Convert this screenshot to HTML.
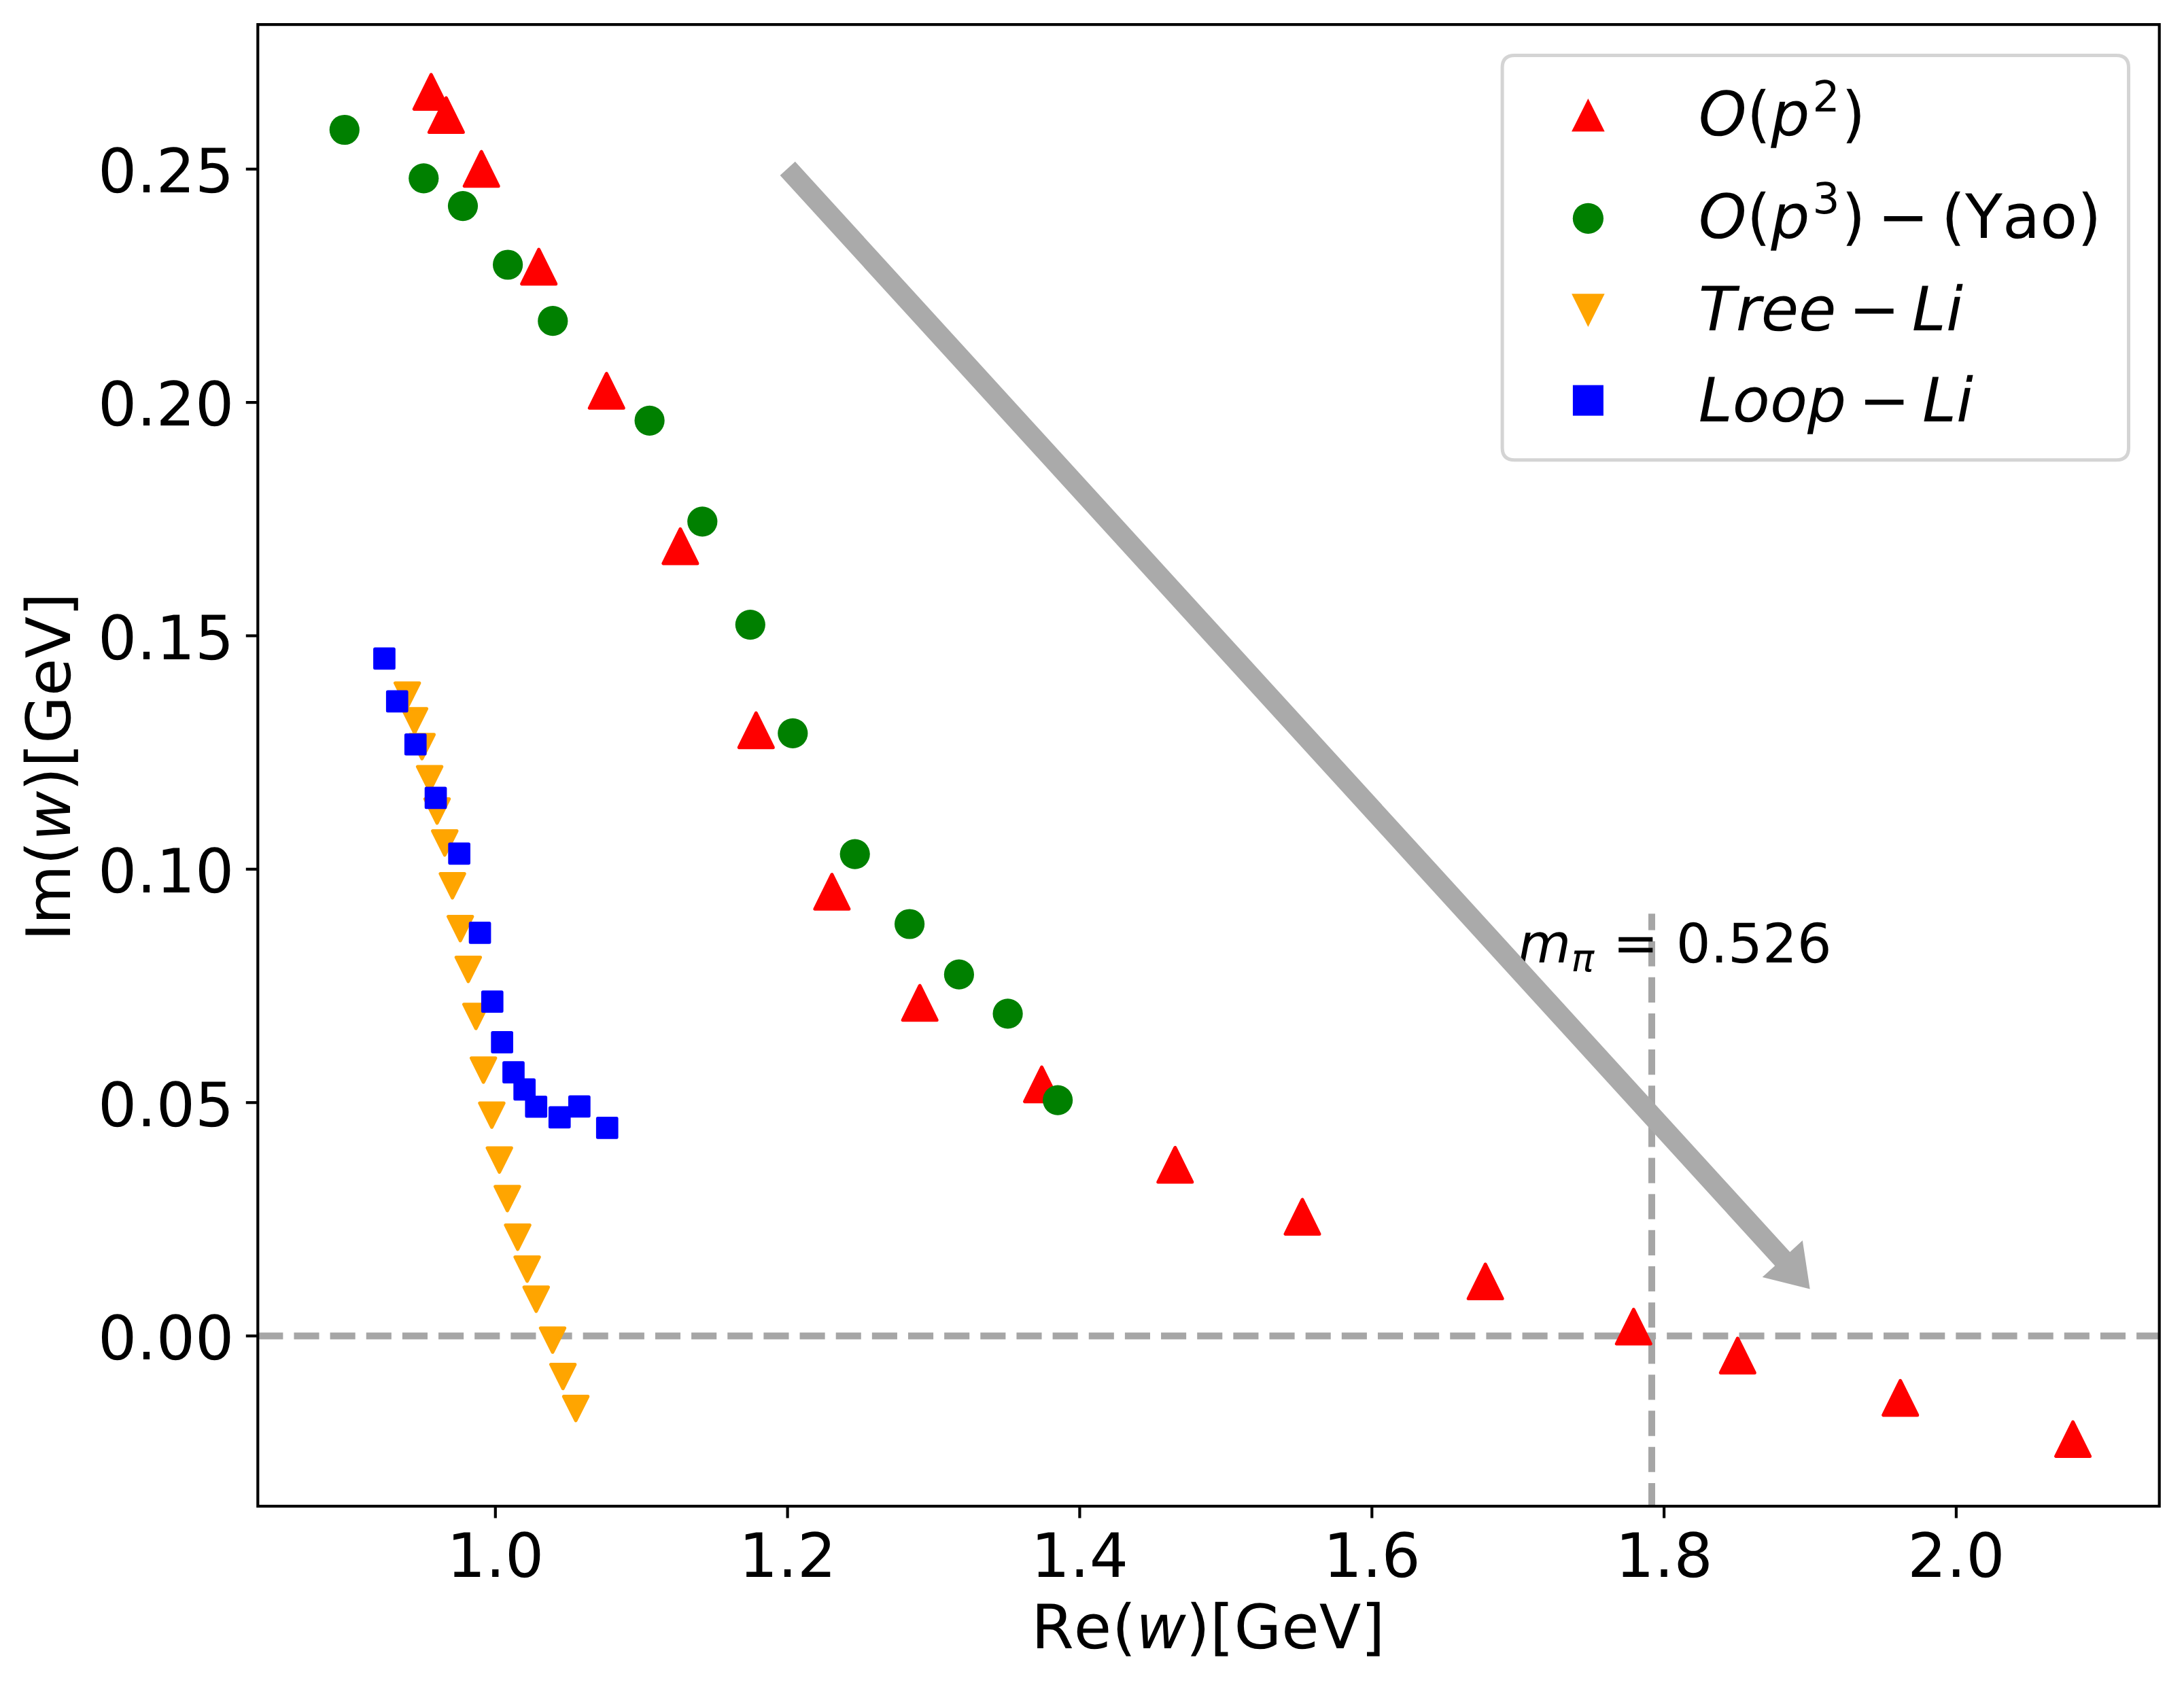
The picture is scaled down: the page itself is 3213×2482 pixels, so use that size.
<!DOCTYPE html>
<html lang="en"><head><meta charset="utf-8"><title>Pole trajectory</title>
<style>html,body{margin:0;padding:0;background:#fff}svg{display:block}text{font-family:"DejaVu Sans","Liberation Sans",sans-serif;fill:#000;font-kerning:none;font-variant-ligatures:none;text-rendering:geometricPrecision}.i{font-style:italic}.t{font-size:90px}.a{font-size:80px}.s{font-size:63px}.s2{font-size:56px}</style></head><body>
<svg width="3213" height="2482" viewBox="0 0 3213 2482">
<rect width="3213" height="2482" fill="#fff"/>
<defs><clipPath id="ax"><rect x="379.3" y="36.1" width="2797.3999999999996" height="2179.9"/></clipPath></defs>
<g clip-path="url(#ax)">
<line x1="379.3" y1="1965.4" x2="3176.7" y2="1965.4" stroke="#a6a6a6" stroke-width="10" stroke-dasharray="37.1 16.05"/>
<line x1="2430.0" y1="2219.0" x2="2430.0" y2="1344.2" stroke="#a6a6a6" stroke-width="10" stroke-dasharray="37.1 16.05"/>
<g fill="#ff0000" stroke="#ff0000" stroke-width="5" stroke-linejoin="round">
<path d="M634.3 109.8L609.3 160.4H659.3Z"/>
<path d="M656.4 144.0L631.4 194.6H681.4Z"/>
<path d="M708.2 223.2L683.2 273.8H733.2Z"/>
<path d="M792.7 367.1L767.7 417.7H817.7Z"/>
<path d="M892.3 549.7L867.3 600.3H917.3Z"/>
<path d="M1000.9 778.3L975.9 828.9H1025.9Z"/>
<path d="M1112.3 1049.1L1087.3 1099.7H1137.3Z"/>
<path d="M1223.9 1286.7L1198.9 1337.3H1248.9Z"/>
<path d="M1353.2 1450.2L1328.2 1500.8H1378.2Z"/>
<path d="M1532.6 1570.1L1507.6 1620.7H1557.6Z"/>
<path d="M1728.8 1688.4L1703.8 1739.0H1753.8Z"/>
<path d="M1916.0 1764.9L1891.0 1815.5H1941.0Z"/>
<path d="M2185.2 1860.0L2160.2 1910.6H2210.2Z"/>
<path d="M2403.3 1926.5L2378.3 1977.1H2428.3Z"/>
<path d="M2556.3 1969.1L2531.3 2019.7H2581.3Z"/>
<path d="M2795.7 2031.3L2770.7 2081.9H2820.7Z"/>
<path d="M3049.6 2092.0L3024.6 2142.6H3074.6Z"/>
</g>
<g fill="#008000">
<circle cx="506.8" cy="191.0" r="22.1"/>
<circle cx="623.3" cy="262.3" r="22.1"/>
<circle cx="681.0" cy="303.1" r="22.1"/>
<circle cx="747.1" cy="389.5" r="22.1"/>
<circle cx="813.3" cy="472.2" r="22.1"/>
<circle cx="955.6" cy="618.8" r="22.1"/>
<circle cx="1033.3" cy="767.3" r="22.1"/>
<circle cx="1103.8" cy="919.1" r="22.1"/>
<circle cx="1166.3" cy="1078.9" r="22.1"/>
<circle cx="1257.7" cy="1256.6" r="22.1"/>
<circle cx="1338.1" cy="1359.5" r="22.1"/>
<circle cx="1410.9" cy="1433.7" r="22.1"/>
<circle cx="1482.6" cy="1491.4" r="22.1"/>
<circle cx="1556.1" cy="1618.6" r="22.1"/>
</g>
<g fill="#ffa500" stroke="#ffa500" stroke-width="5" stroke-linejoin="round">
<path d="M581.5 1004.9H616.9L599.2 1040.3Z"/>
<path d="M592.2 1042.7H627.6L609.9 1078.1Z"/>
<path d="M603.1 1080.8H638.5L620.8 1116.2Z"/>
<path d="M614.4 1127.9H649.8L632.1 1163.3Z"/>
<path d="M625.3 1175.5H660.7L643.0 1210.9Z"/>
<path d="M636.6 1222.6H672.0L654.3 1258.0Z"/>
<path d="M647.9 1285.5H683.3L665.6 1320.9Z"/>
<path d="M659.5 1348.5H694.9L677.2 1383.9Z"/>
<path d="M671.2 1408.5H706.6L688.9 1443.9Z"/>
<path d="M682.5 1477.7H717.9L700.2 1513.1Z"/>
<path d="M693.5 1556.7H728.9L711.2 1592.1Z"/>
<path d="M705.8 1622.9H741.2L723.5 1658.3Z"/>
<path d="M717.0 1689.0H752.4L734.7 1724.4Z"/>
<path d="M728.7 1745.7H764.1L746.4 1781.1Z"/>
<path d="M743.9 1802.5H779.3L761.6 1837.9Z"/>
<path d="M757.9 1849.4H793.3L775.6 1884.8Z"/>
<path d="M771.1 1893.8H806.5L788.8 1929.2Z"/>
<path d="M795.3 1953.9H830.7L813.0 1989.3Z"/>
<path d="M810.5 2007.4H845.9L828.2 2042.8Z"/>
<path d="M829.4 2054.6H864.8L847.1 2090.0Z"/>
</g>
<g fill="#0000ff" stroke="#0000ff" stroke-width="5" stroke-linejoin="round">
<rect x="551.6" y="955.1" width="27.7" height="27.7"/>
<rect x="570.4" y="1018.1" width="27.7" height="27.7"/>
<rect x="597.4" y="1081.4" width="27.7" height="27.7"/>
<rect x="627.2" y="1160.1" width="27.7" height="27.7"/>
<rect x="661.8" y="1242.1" width="27.7" height="27.7"/>
<rect x="692.2" y="1358.6" width="27.7" height="27.7"/>
<rect x="710.4" y="1459.8" width="27.7" height="27.7"/>
<rect x="724.8" y="1519.5" width="27.7" height="27.7"/>
<rect x="741.6" y="1563.8" width="27.7" height="27.7"/>
<rect x="757.8" y="1589.0" width="27.7" height="27.7"/>
<rect x="774.9" y="1614.4" width="27.7" height="27.7"/>
<rect x="809.4" y="1630.0" width="27.7" height="27.7"/>
<rect x="838.5" y="1614.0" width="27.7" height="27.7"/>
<rect x="879.4" y="1645.6" width="27.7" height="27.7"/>
</g>
<g class="a">
<text class="i" x="2233.3" y="1416.4">m</text>
<text class="i s2" x="2311.6" y="1428.8">π</text>
<text x="2372.7" y="1415.3">=</text>
<text x="2465.7" y="1415.6">0.526</text>
</g>
<polygon fill="#aaaaaa" points="1147.6,258.0 2611.2,1862.2 2592.7,1879.0 2662.7,1896.4 2651.8,1825.1 2633.3,1842.0 1169.8,237.8"/>
</g>
<rect x="379.3" y="36.1" width="2797.4" height="2179.9" fill="none" stroke="#000" stroke-width="4.2" stroke-linejoin="miter"/>
<g stroke="#000" stroke-width="4.2">
<line x1="728.8" y1="2216.0" x2="728.8" y2="2233.5"/>
<line x1="1158.6" y1="2216.0" x2="1158.6" y2="2233.5"/>
<line x1="1588.4" y1="2216.0" x2="1588.4" y2="2233.5"/>
<line x1="2018.3" y1="2216.0" x2="2018.3" y2="2233.5"/>
<line x1="2448.1" y1="2216.0" x2="2448.1" y2="2233.5"/>
<line x1="2877.9" y1="2216.0" x2="2877.9" y2="2233.5"/>
<line x1="379.3" y1="1965.5" x2="361.8" y2="1965.5"/>
<line x1="379.3" y1="1622.2" x2="361.8" y2="1622.2"/>
<line x1="379.3" y1="1278.8" x2="361.8" y2="1278.8"/>
<line x1="379.3" y1="935.4" x2="361.8" y2="935.4"/>
<line x1="379.3" y1="592.1" x2="361.8" y2="592.1"/>
<line x1="379.3" y1="248.8" x2="361.8" y2="248.8"/>
</g>
<g class="t" text-anchor="middle">
<text x="728.8" y="2320">1.0</text>
<text x="1158.6" y="2320">1.2</text>
<text x="1588.4" y="2320">1.4</text>
<text x="2018.3" y="2320">1.6</text>
<text x="2448.1" y="2320">1.8</text>
<text x="2877.9" y="2320">2.0</text>
</g>
<g class="t" text-anchor="end">
<text x="344.3" y="1999.8">0.00</text>
<text x="344.3" y="1656.5">0.05</text>
<text x="344.3" y="1313.1">0.10</text>
<text x="344.3" y="969.7">0.15</text>
<text x="344.3" y="626.4">0.20</text>
<text x="344.3" y="283.1">0.25</text>
</g>
<text class="t" y="2424.5"><tspan x="1517.3">Re</tspan><tspan x="1636.1">(</tspan><tspan class="i" x="1671.2">w</tspan><tspan x="1744.8">)[</tspan><tspan x="1815.6">GeV</tspan><tspan x="2002.3">]</tspan></text>
<text class="t" transform="translate(103.3 1384.2) rotate(-90)"><tspan x="0">I</tspan><tspan x="23.85">m(</tspan><tspan class="i">w</tspan>)[GeV]</text>
<path d="M2228.1 81.4H3113.5Q3131.5 81.4 3131.5 99.4V658.8Q3131.5 676.8 3113.5 676.8H2228.1Q2210.1 676.8 2210.1 658.8V99.4Q2210.1 81.4 2228.1 81.4Z" fill="#fff" stroke="#d4d4d4" stroke-width="5"/>
<path fill="#ff0000" d="M2336.4 145.0L2312.1 193.6H2360.7Z"/>
<circle fill="#008000" cx="2336.4" cy="321.3" r="22.6"/>
<path fill="#ffa500" d="M2312.1 432.3H2360.7L2336.4 480.9Z"/>
<rect fill="#0000ff" x="2313.9" y="566.6" width="45" height="45"/>
<g class="t">
<text y="199.4"><tspan class="i" x="2498.7">O</tspan><tspan x="2569.8">(</tspan><tspan class="i" x="2605.2">p</tspan><tspan class="s" x="2666.4" dy="-35.6">2</tspan><tspan x="2709.3" dy="35.6">)</tspan></text>
<text y="350.0"><tspan class="i" x="2498.7">O</tspan><tspan x="2569.8">(</tspan><tspan class="i" x="2605.2">p</tspan><tspan class="s" x="2666.4" dy="-35.6">3</tspan><tspan x="2709.3" dy="35.6">)</tspan><tspan x="2762.3">−</tspan><tspan x="2855.9">(Yao)</tspan></text>
<text y="485.8"><tspan class="i" x="2498.7">Tree</tspan><tspan x="2719.7">−</tspan><tspan class="i" x="2812.8">Li</tspan></text>
<text y="620.0"><tspan class="i" x="2498.7">Loop</tspan><tspan x="2734.6">−</tspan><tspan class="i" x="2827.9">Li</tspan></text>
</g>
</svg></body></html>
